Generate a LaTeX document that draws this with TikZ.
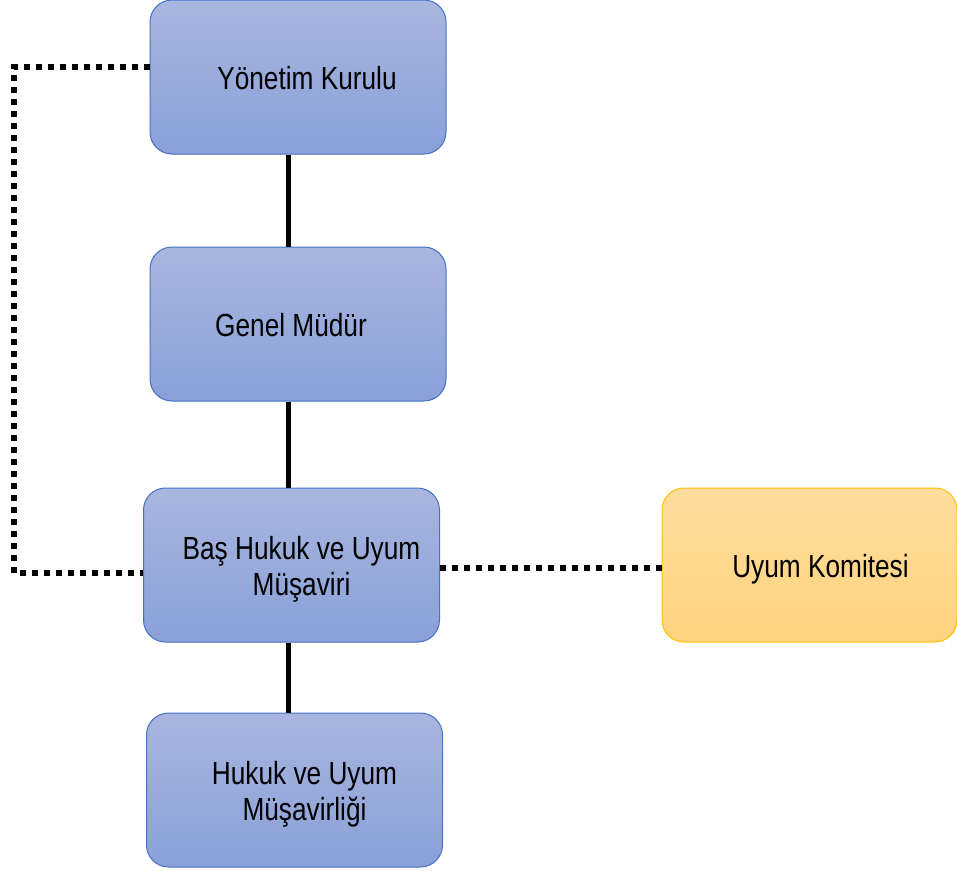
\documentclass[tikz,border=0pt]{standalone}
\usepackage{fontspec}
\newfontfamily\boxfont[FakeStretch=0.82]{Liberation Sans}
\definecolor{bluetop}{HTML}{A9B6DF}
\definecolor{bluebot}{HTML}{89A0D8}
\definecolor{blueedge}{HTML}{4472C4}
\definecolor{orangetop}{HTML}{FFDD9E}
\definecolor{orangebot}{HTML}{FFD37E}
\definecolor{orangeedge}{HTML}{FFC000}
\newcommand{\boxtext}[2]{\hspace*{#1}\raisebox{-5pt}[\height][\depth]{\begin{tabular}{@{}c@{}}#2\end{tabular}}}
\begin{document}
\begin{tikzpicture}[x=1pt,y=-1pt,
  orgbox/.style={rectangle, rounded corners=22pt, minimum width=296pt, minimum height=154pt,
    inner sep=0pt, line width=1pt, draw=blueedge, top color=bluetop, bottom color=bluebot,
    font=\boxfont\fontsize{32}{36}\selectfont, align=center},
  committeebox/.style={orgbox, draw=orangeedge, top color=orangetop, bottom color=orangebot, minimum width=295pt},
  solidlink/.style={line width=5pt, black},
  dotlink/.style={line width=6pt, black, dash pattern=on 6pt off 6pt}]
\useasboundingbox (0,0) rectangle (957,870);
\node[orgbox] (yk) at (298,77) {\boxtext{18pt}{Yönetim Kurulu}};
\node[orgbox] (gm) at (298,324) {\boxtext{-14pt}{Genel Müdür}};
\node[orgbox] (bh) at (291.5,565) {\boxtext{20pt}{Baş Hukuk ve Uyum\\Müşaviri}};
\node[orgbox] (hu) at (294.5,790) {\boxtext{20pt}{Hukuk ve Uyum\\Müşavirliği}};
\node[committeebox] (uk) at (809.5,565) {\boxtext{22pt}{Uyum Komitesi}};
\draw[solidlink] ([xshift=-10pt]yk.south) -- ([xshift=-10pt]gm.north);
\draw[solidlink] ([xshift=-10pt]gm.south) -- ([xshift=-10pt]gm.south |- bh.north);
\draw[solidlink] ([xshift=-3.5pt]bh.south) -- ([xshift=-3.5pt]bh.south |- hu.north);
\draw[dotlink] ([yshift=10pt]yk.west) -- ++(-136,0) |- ([yshift=-8pt]bh.west);
\draw[dotlink] ([yshift=-3pt]bh.east) -- ([yshift=-3pt]uk.west);
\end{tikzpicture}
\end{document}
